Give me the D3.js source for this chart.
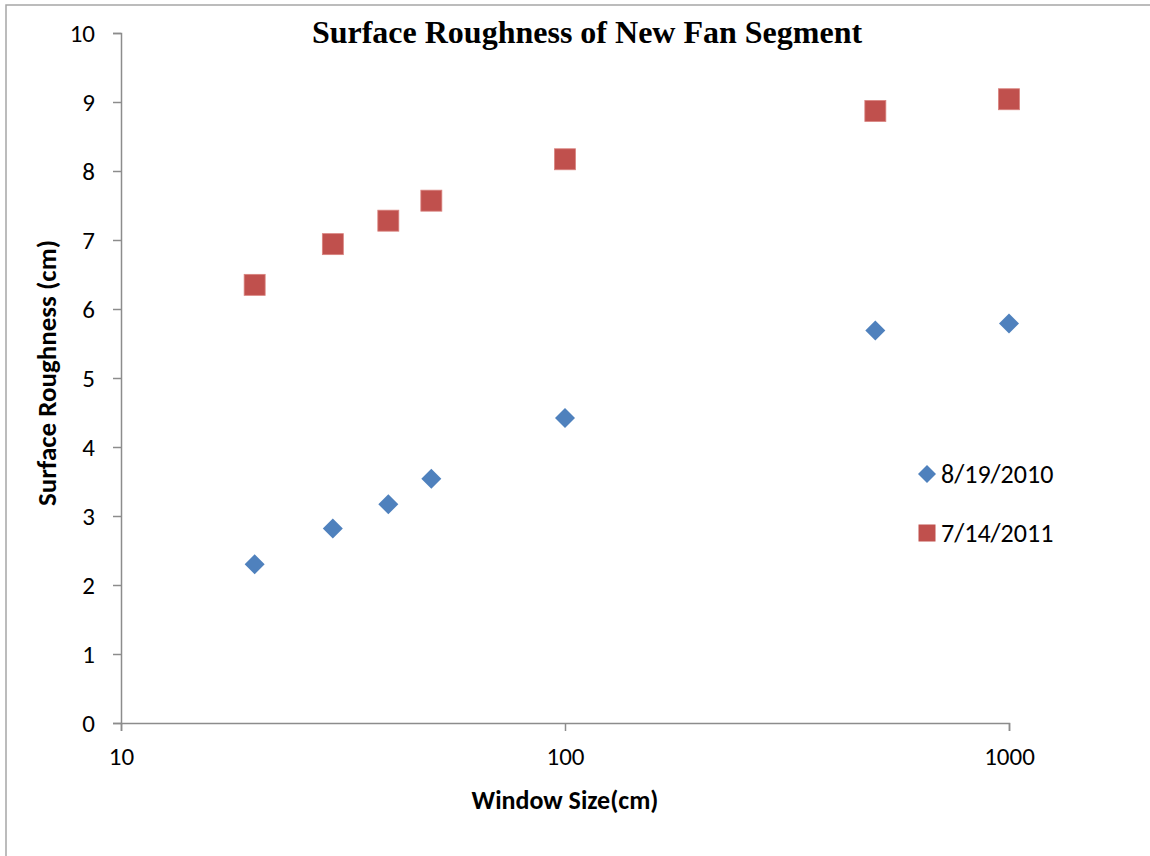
<!DOCTYPE html>
<html>
<head>
<meta charset="utf-8">
<script src="https://cdn.jsdelivr.net/npm/d3@7"></script>
<style>
  html, body { margin: 0; padding: 0; background: #fff; }
  svg { display: block; }
</style>
</head>
<body>
<svg id="chart" width="1150" height="856"></svg>
<script>
// Window sizes (cm) and measured surface roughness (cm) for each survey date
const windowSizes = [20, 30, 40, 50, 100, 500, 1000];
const roughness2010 = [2.30, 2.82, 3.17, 3.54, 4.42, 5.69, 5.79];
const roughness2011 = [6.35, 6.94, 7.28, 7.57, 8.17, 8.87, 9.04];
const seriesNames = ["8/19/2010", "7/14/2011"];
const xTicks = [10, 100, 1000];
const yTicks = [0, 1, 2, 3, 4, 5, 6, 7, 8, 9, 10];

const titleText = "Surface Roughness of New Fan Segment";
const xTitle = "Window Size(cm)";
const yTitle = "Surface Roughness (cm)";

const blue = "#4F81BD";
const red = "#C0504D";
const axisColor = "#8c8c8c";
const sansFont = "Calibri, Carlito, Lato, sans-serif";

const svg = d3.select("#chart");

// Outer chart frame
svg.append("rect")
  .attr("x", 6).attr("y", 5)
  .attr("width", 1160).attr("height", 870)
  .attr("fill", "#fff")
  .attr("stroke", "#a6a6a6")
  .attr("stroke-width", 1.5);

const plot = { left: 121, right: 1009, top: 33, bottom: 723 };

const x = d3.scaleLog().domain([10, 1000]).range([plot.left, plot.right]);
const y = d3.scaleLinear().domain([0, 10]).range([plot.bottom, plot.top]);

// Y axis
const yAxis = svg.append("g")
  .attr("transform", `translate(${plot.left},0)`)
  .call(d3.axisLeft(y).tickValues(yTicks).tickFormat(d3.format("d")).tickSize(8).tickPadding(18));
yAxis.select(".domain").attr("stroke", axisColor).attr("stroke-width", 1.5);
yAxis.selectAll(".tick line").attr("stroke", axisColor).attr("stroke-width", 1.5);
yAxis.selectAll(".tick text")
  .attr("fill", "#000")
  .style("font-family", sansFont)
  .style("font-size", "25px");

// X axis
const xAxis = svg.append("g")
  .attr("transform", `translate(0,${plot.bottom})`)
  .call(d3.axisBottom(x).tickValues(xTicks).tickFormat(d3.format("d")).tickSize(8).tickPadding(16));
xAxis.select(".domain").attr("stroke", axisColor).attr("stroke-width", 1.5);
xAxis.selectAll(".tick line").attr("stroke", axisColor).attr("stroke-width", 1.5);
xAxis.selectAll(".tick text")
  .attr("fill", "#000")
  .style("font-family", sansFont)
  .style("font-size", "25px");

// Titles
svg.append("text")
  .attr("x", 587).attr("y", 43)
  .attr("text-anchor", "middle")
  .style("font-family", "'Liberation Serif', 'Times New Roman', serif")
  .style("font-weight", "bold")
  .style("font-size", "32px")
  .text(titleText);

svg.append("text")
  .attr("x", 565).attr("y", 800)
  .attr("dy", "0.35em")
  .attr("text-anchor", "middle")
  .style("font-family", sansFont)
  .style("font-weight", "bold")
  .style("font-size", "26px")
  .text(xTitle);

svg.append("text")
  .attr("transform", "translate(47,373) rotate(-90)")
  .attr("dy", "0.35em")
  .attr("text-anchor", "middle")
  .style("font-family", sansFont)
  .style("font-weight", "bold")
  .style("font-size", "27px")
  .text(yTitle);

// Markers
const diamond = d3.symbol().type(d3.symbolSquare).size(200);
const pts2010 = windowSizes.map((w, i) => ({ w, v: roughness2010[i] }));
const pts2011 = windowSizes.map((w, i) => ({ w, v: roughness2011[i] }));

svg.append("g").selectAll("path")
  .data(pts2010)
  .join("path")
  .attr("d", diamond)
  .attr("transform", d => `translate(${x(d.w)},${y(d.v)}) rotate(45)`)
  .attr("fill", blue);

const sq = 21;
svg.append("g").selectAll("rect")
  .data(pts2011)
  .join("rect")
  .attr("x", d => x(d.w) - sq / 2)
  .attr("y", d => y(d.v) - sq / 2)
  .attr("width", sq).attr("height", sq)
  .attr("fill", red)
  .attr("stroke", "#d9837f")
  .attr("stroke-width", 0.8);

// Legend
const legendY = [474, 533];
const legend = svg.append("g");
legend.append("path")
  .attr("d", d3.symbol().type(d3.symbolSquare).size(162))
  .attr("transform", `translate(927,${legendY[0]}) rotate(45)`)
  .attr("fill", blue);
legend.append("rect")
  .attr("x", 918.5).attr("y", legendY[1] - 8.5).attr("width", 17).attr("height", 17)
  .attr("fill", red);
legend.selectAll("text")
  .data(seriesNames)
  .join("text")
  .attr("x", 941)
  .attr("y", (d, i) => legendY[i])
  .attr("dy", "0.35em")
  .style("font-family", sansFont)
  .style("font-size", "26px")
  .text(d => d);
</script>
</body>
</html>
